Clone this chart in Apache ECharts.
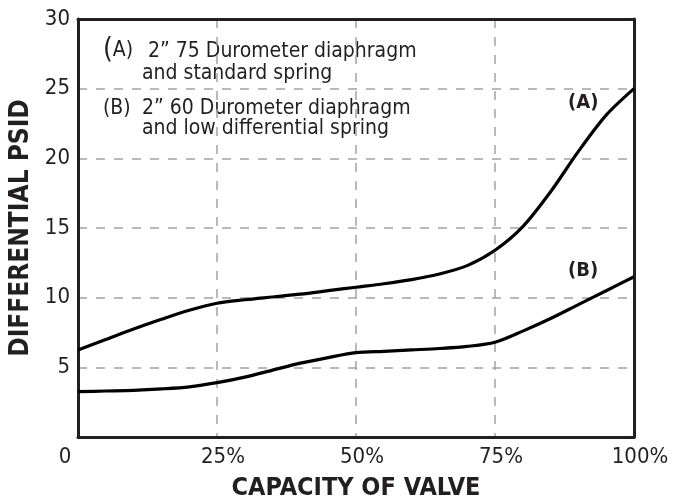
<!DOCTYPE html>
<html>
<head>
<meta charset="utf-8">
<script src="https://cdn.jsdelivr.net/npm/echarts@6/dist/echarts.min.js"></script>
<style>
  html, body { margin: 0; padding: 0; background: #fff; }
  #chart { width: 677px; height: 502px; }
</style>
</head>
<body>
<div id="chart"></div>
<script>
// capacity of valve (%) vs differential psid
let capacity = [0, 5, 10, 15, 20, 25, 30, 35, 40, 45, 50, 55, 60, 65, 70, 75, 80, 85, 90, 95, 100];
let curveA = [6.25, 7.0, 7.75, 8.45, 9.1, 9.6, 9.85, 10.05, 10.25, 10.5, 10.75, 11.0, 11.3, 11.7, 12.3, 13.4, 15.1, 17.6, 20.5, 23.1, 25];
let curveB = [3.25, 3.3, 3.35, 3.45, 3.6, 3.9, 4.3, 4.8, 5.3, 5.7, 6.05, 6.15, 6.25, 6.35, 6.5, 6.8, 7.6, 8.5, 9.5, 10.5, 11.5];
let xTicks = [0, 25, 50, 75, 100];
let yTicks = [5, 10, 15, 20, 25, 30];
let legendLines = [
    ['(A)', '2\u201d 75 Durometer diaphragm', 'and standard spring'],
    ['(B)', '2\u201d 60 Durometer diaphragm', 'and low differential spring']
];

let font = "'Liberation Sans Narrow', 'DejaVu Sans Condensed', 'Liberation Sans', sans-serif";
let ink = '#231f20';

let pairs = (xs, ys) => xs.map((x, i) => [x, ys[i]]);

let chart = echarts.init(document.getElementById('chart'));

let gridLine = {
    show: true,
    lineStyle: { color: '#a3a3a3', width: 1.5, type: [9, 9] }
};

let option = {
    backgroundColor: '#fff',
    animation: false,
    textStyle: { fontFamily: font },
    grid: { left: 78, right: 43, top: 19, bottom: 65, outerBoundsMode: 'none' },
    xAxis: [{
        type: 'value',
        min: 0,
        max: 100,
        interval: 25,
        name: 'CAPACITY OF VALVE',
        nameLocation: 'middle',
        nameGap: 39,
        nameTextStyle: { fontFamily: font, fontWeight: 'bold', fontSize: 25, color: ink },
        axisLine: { show: true, lineStyle: { color: ink, width: 3 } },
        axisTick: { show: false },
        splitLine: gridLine,
        axisLabel: {
            margin: 9,
            formatter: v => xTicks.indexOf(v) < 0 ? '' : (v === 0 ? '{z|0}' : '{p|' + v + '%}'),
            rich: {
                z: { fontFamily: font, fontSize: 22, color: ink, padding: [0, 26, 0, 0] },
                p: { fontFamily: font, fontSize: 22, color: ink, padding: [0, 0, 0, 12] }
            }
        }
    }, {
        // top edge of the frame
        type: 'value', min: 0, max: 100, position: 'top', z: 3,
        axisLine: { show: true, onZero: false, lineStyle: { color: ink, width: 3 } },
        axisTick: { show: false }, axisLabel: { show: false }, splitLine: { show: false }
    }],
    yAxis: [{
        type: 'value',
        min: 0,
        max: 30,
        interval: 5,
        name: 'DIFFERENTIAL PSID',
        nameLocation: 'middle',
        nameGap: 37,
        nameTextStyle: { fontFamily: font, fontWeight: 'bold', fontSize: 26, color: ink },
        axisLine: { show: true, lineStyle: { color: ink, width: 3 } },
        axisTick: { show: false },
        splitLine: gridLine,
        axisLabel: {
            margin: 8,
            fontFamily: font,
            fontSize: 22,
            color: ink,
            formatter: v => yTicks.indexOf(v) < 0 ? '' : String(v)
        }
    }, {
        // right edge of the frame
        type: 'value', min: 0, max: 30, position: 'right', z: 3,
        axisLine: { show: true, onZero: false, lineStyle: { color: ink, width: 3 } },
        axisTick: { show: false }, axisLabel: { show: false }, splitLine: { show: false }
    }],
    series: [
        {
            name: 'A',
            type: 'line',
            smooth: 0.3,
            symbol: 'none',
            z: 4,
            lineStyle: { color: '#000', width: 3.2 },
            data: pairs(capacity, curveA)
        },
        {
            name: 'B',
            type: 'line',
            smooth: 0.3,
            symbol: 'none',
            z: 4,
            lineStyle: { color: '#000', width: 3.2 },
            data: pairs(capacity, curveB)
        }
    ],
    graphic: [
        {
            type: 'text', left: 103, top: 37,
            style: {
                text: '{big|(}' + legendLines[0][0].slice(1), fill: ink, font: '21px ' + font,
                rich: { big: { fontSize: 28, fontFamily: font, fill: ink } }
            }
        },
        { type: 'text', left: 148, top: 41, style: { text: legendLines[0][1], fill: ink, font: '21px ' + font } },
        { type: 'text', left: 142, top: 63, style: { text: legendLines[0][2], fill: ink, font: '21px ' + font } },
        { type: 'text', left: 103, top: 98, style: { text: legendLines[1][0], fill: ink, font: '21px ' + font } },
        { type: 'text', left: 142, top: 98, style: { text: legendLines[1][1], fill: ink, font: '21px ' + font } },
        { type: 'text', left: 142, top: 118, style: { text: legendLines[1][2], fill: ink, font: '21px ' + font } },
        // curve labels
        { type: 'text', left: 568, top: 93, style: { text: '(A)', fill: ink, font: 'bold 20px ' + font } },
        { type: 'text', left: 568, top: 261, style: { text: '(B)', fill: ink, font: 'bold 20px ' + font } }
    ]
};

chart.setOption(option);
</script>
</body>
</html>
